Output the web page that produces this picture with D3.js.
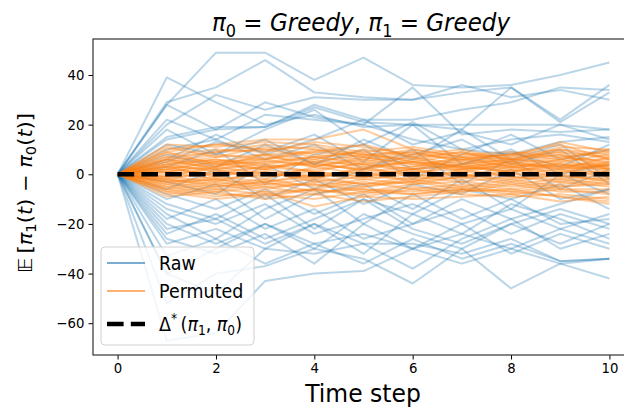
<!DOCTYPE html>
<html>
<head>
<meta charset="utf-8">
<script src="https://cdn.jsdelivr.net/npm/d3@7"></script>
<style>
  html, body { margin: 0; padding: 0; background: #fff; }
  svg { display: block; }
  text { font-family: "DejaVu Sans", sans-serif; fill: #000; }
</style>
</head>
<body>
<svg id="chart" width="624" height="414"></svg>
<script>
const timeSteps = [0, 1, 2, 3, 4, 5, 6, 7, 8, 9, 10];

const rawSeries = [
  [0, 28, 49, 49, 38, 47, 36, 35, 36, 40, 45],
  [0, 39, 29, 20, 24, 19, 20, 18, 35, 22, 36],
  [0, 29, 35, 46, 33, 31, 30, 33, 35, 21, 33],
  [0, 20, 32, 26, 31, 30, 30, 36, 31, 34, 30],
  [0, 28, 18, 19, 28, 22, 22, 26, 29, 35, 34],
  [0, 14, 18, 29, 23, 20, 35, 16, 18, 17, 18],
  [0, 15, 19, 19, 27, 21, 20, 20, 20, 20, 18],
  [0, 10, 14, 24, 22, 20, 14, 10, 14, 16, 13],
  [0, 12, 8, 18, 26, 12, 21, 10, 8, 13, 15],
  [0, 5, 13, 9, 16, 5, 20, 4, 9, 3, 12],
  [0, 8, 3, 12, 4, 14, 6, 18, 6, 12, -2],
  [0, 3, 10, -4, 8, 12, 2, 4, 10, 0, 4],
  [0, -3, -8, 4, -6, 2, 10, -4, 6, -6, 2],
  [0, -6, 2, -10, -2, -12, -4, -8, 2, -10, -6],
  [0, -10, -4, -18, -8, -4, -14, -2, -14, 0, -8],
  [0, -12, -18, -8, -22, -10, -16, -6, -10, -20, -18],
  [0, -16, -26, -14, -6, -20, -8, -18, -10, -4, -14],
  [0, -18, -10, -22, -14, -26, -20, -14, -24, -16, -22],
  [0, -20, -28, -20, -30, -16, -24, -30, -20, -28, -20],
  [0, -22, -18, -28, -20, -32, -16, -24, -12, -18, -26],
  [0, -26, -32, -24, -36, -20, -30, -20, -32, -24, -30],
  [0, -28, -22, -30, -20, -28, -38, -26, -18, -30, -24],
  [0, -33, -26, -36, -28, -36, -26, -34, -28, -35, -34],
  [0, -40, -30, -20, -28, -24, -30, -36, -30, -22, -28],
  [0, -52, -40, -37, -30, -34, -44, -30, -46, -36, -42],
  [0, -67, -64, -43, -40, -39, -30, -24, -30, -36, -34],
  [0, -40, -48, -30, -32, -28, -28, -32, -26, -35, -34],
  [0, 6, 16, 8, 14, 22, 12, 17, 12, 20, 14],
  [0, -8, -14, -6, -16, -8, -20, -10, -18, -12, -6],
  [0, 18, 8, 14, 4, 10, -2, 8, 16, 6, 10],
  [0, -14, -20, -12, -24, -18, -12, -20, -14, -22, -16],
  [0, 22, 14, 6, 12, 2, 8, 14, 4, 10, -4],
  [0, -24, -16, -26, -18, -10, -22, -28, -20, -14, -20]
];

const permutedSeries = [
  [0, 10, 12, 14, 14, 18, 10, 7, 6, 9, 7],
  [0, 12, 11, 13, 12, 9, 11, 8, 7, 13, 9],
  [0, 8, 10, 9, 13, 11, 8, 6, 5, 11, 10],
  [0, 6, 9, 12, 10, 8, 6, 9, 4, 7, 5],
  [0, 11, 7, 8, 9, 12, 7, 4, 6, 5, 8],
  [0, 4, 7, 11, 8, 6, 9, 5, 7, 9, 4],
  [0, 7, 5, 6, 10, 7, 4, 6, 3, 6, 6],
  [0, 3, 6, 4, 7, 9, 5, 3, 5, 8, 3],
  [0, 9, 4, 7, 5, 4, 7, 2, 4, 3, 5],
  [0, 5, 3, 8, 3, 6, 3, 5, 2, 6, 2],
  [0, 2, 5, 2, 6, 3, 5, 1, 4, 2, 7],
  [0, 6, 2, 4, 1, 5, 2, 4, 6, 4, 1],
  [0, 1, 4, 5, 4, 2, 6, 3, 1, 5, 3],
  [0, 4, 1, 3, 5, 1, 3, 7, 3, 1, 4],
  [0, -1, 3, 0, 2, 4, 1, 2, 5, 3, 0],
  [0, 3, -1, 2, -1, 2, 0, 4, 1, 4, 2],
  [0, 0, 2, -2, 3, 0, 2, -1, 3, 0, 5],
  [0, 2, 0, 1, -2, 3, -1, 1, 0, 2, -1],
  [0, -2, 1, -1, 1, -1, 1, 0, -2, 1, 1],
  [0, 1, -2, 0, -1, 1, -3, 2, -1, -2, 0],
  [0, -3, -1, -3, 0, -2, 0, -2, 2, -1, -2],
  [0, -1, -3, 1, -3, -1, -2, 0, -3, 0, -3],
  [0, -4, -2, -4, -2, -4, -1, -3, -1, -3, -1],
  [0, -2, -4, -2, -5, -2, -4, -1, -4, -2, -4],
  [0, -5, -3, -6, -3, -5, -2, -5, -2, -5, -3],
  [0, -3, -6, -4, -4, -7, -4, -3, -5, -3, -5],
  [0, -6, -4, -7, -6, -3, -6, -4, -6, -4, -2],
  [0, -4, -7, -5, -8, -5, -3, -6, -3, -6, -6],
  [0, -7, -5, -3, -7, -6, -7, -5, -7, -5, -4],
  [0, -5, -8, -9, -6, -8, -5, -7, -4, -7, -7],
  [0, -8, -6, -8, -10, -7, -8, -6, -8, -6, -8],
  [0, -6, -9, -7, -13, -9, -6, -8, -9, -8, -10],
  [0, -9, -7, -10, -8, -11, -9, -7, -6, -9, -12],
  [0, -7, -10, -8, -6, -9, -10, -9, -8, -11, -9],
  [0, 2, 5, 8, 6, 10, 7, 9, 6, 10, 8],
  [0, 5, 8, 6, 9, 7, 10, 7, 8, 6, 10],
  [0, 7, 9, 10, 7, 5, 8, 10, 6, 8, 2],
  [0, 3, 2, 5, 7, 4, 2, 6, 8, 12, 6],
  [0, -2, -5, -3, -1, -4, -3, -1, 0, -1, 1],
  [0, 1, 3, 6, 3, 7, 4, 2, 3, 4, 3],
  [0, 4, 6, 3, 4, 2, 5, 3, 5, 2, 4],
  [0, -1, 0, 3, 1, -1, 2, 3, 1, 3, 2],
  [0, 9, 12, 10, 11, 8, 9, 6, 8, 10, 6],
  [0, -3, -2, -5, -4, -6, -8, -6, -7, -9, -11],
  [0, 6, 4, 2, 5, 8, 5, 8, 9, 7, 9]
];

const optimalGap = [0, 0, 0, 0, 0, 0, 0, 0, 0, 0, 0];

const xTicks = [0, 2, 4, 6, 8, 10];
const yTicks = [-60, -40, -20, 0, 20, 40];
const legendLabels = ["Raw", "Permuted"];

// ---------- layout ----------
const svg = d3.select("#chart");
const L = 93, T = 39, R = 634, B = 355;

const x = d3.scaleLinear().domain([-0.5, 10.5]).range([L, R]);
const y = d3.scaleLinear().domain([-72.8, 54.5]).range([B, T]);

svg.append("defs").append("clipPath").attr("id", "clip")
  .append("rect").attr("x", L).attr("y", T).attr("width", R - L).attr("height", B - T);

const plot = svg.append("g").attr("clip-path", "url(#clip)");
const line = d3.line().x((d, i) => x(timeSteps[i])).y(d => y(d));

const blue = "#1f77b4", orange = "#ff7f0e";

plot.selectAll(".raw").data(rawSeries).join("path")
  .attr("class", "raw").attr("d", line)
  .attr("fill", "none").attr("stroke", blue).attr("stroke-opacity", 0.3)
  .attr("stroke-width", 2).attr("stroke-linejoin", "round");

plot.selectAll(".perm").data(permutedSeries).join("path")
  .attr("class", "perm").attr("d", line)
  .attr("fill", "none").attr("stroke", orange).attr("stroke-opacity", 0.4)
  .attr("stroke-width", 2).attr("stroke-linejoin", "round");

plot.append("path").datum(optimalGap).attr("d", line)
  .attr("fill", "none").attr("stroke", "#000").attr("stroke-width", 4.5)
  .attr("stroke-dasharray", "16.6,7.2");

// ---------- axes ----------
const fmt = d => d < 0 ? "\u2212" + Math.abs(d) : String(d);
const TSX = 0.95;

const xAxis = svg.append("g").attr("transform", `translate(0,${B})`)
  .call(d3.axisBottom(x).tickValues(xTicks).tickSize(4.5).tickPadding(4).tickFormat(fmt));
const yAxis = svg.append("g").attr("transform", `translate(${L},0)`)
  .call(d3.axisLeft(y).tickValues(yTicks).tickSize(4.5).tickPadding(4).tickFormat(fmt));

[xAxis, yAxis].forEach(a => {
  a.select(".domain").remove();
  a.selectAll(".tick line").attr("stroke", "#000").attr("stroke-width", 1);
  a.selectAll(".tick text").attr("font-size", 14).attr("font-family", "DejaVu Sans")
    .attr("fill", "#222");
});
xAxis.selectAll(".tick text").attr("transform", `scale(${TSX},1)`);
yAxis.selectAll(".tick text").each(function () {
  const t = d3.select(this);
  const xx = +t.attr("x");
  t.attr("x", xx / TSX).attr("transform", `scale(${TSX},1)`);
});

// spines
svg.append("rect").attr("x", L).attr("y", T).attr("width", R - L).attr("height", B - T)
  .attr("fill", "none").attr("stroke", "#333").attr("stroke-width", 1.2);

// ---------- text helper ----------
function mathText(parent, cx, cy, size, sx, parts, anchor, rotate) {
  const g = parent.append("g")
    .attr("transform", `translate(${cx},${cy})` + (rotate ? ` rotate(${rotate}) scale(1,${sx})` : ` scale(${sx},1)`));
  const t = g.append("text").attr("font-size", size).attr("text-anchor", anchor || "middle");
  parts.forEach(p => {
    const ts = t.append("tspan").text(p.t);
    if (p.i) ts.attr("font-style", "italic");
    if (p.sub) ts.attr("font-size", size * 0.7).attr("dy", size * 0.22);
    if (p.sup) ts.attr("font-size", size * 0.7).attr("dy", -size * 0.4);
    if (p.back) ts.attr("dy", p.back * size);
  });
  return t;
}

// title
mathText(svg, 361, 31, 25, 0.92, [
  { t: "\u03c0", i: true }, { t: "0", sub: true }, { t: " = ", back: -0.22 }, { t: "Greedy", i: true },
  { t: ", " }, { t: "\u03c0", i: true }, { t: "1", sub: true }, { t: " = ", back: -0.22 }, { t: "Greedy", i: true }
]);

// x label
mathText(svg, 363, 402, 25.5, 0.92, [{ t: "Time step" }]);

// y label (rotated)
mathText(svg, 32, 193, 21, 0.92, [
  { t: "\ud835\udd3c" }, { t: "\u2009[" }, { t: "\u03c0", i: true }, { t: "1", sub: true },
  { t: "(", back: -0.22 }, { t: "t", i: true }, { t: ") \u2212 " }, { t: "\u03c0", i: true }, { t: "0", sub: true },
  { t: "(", back: -0.22 }, { t: "t", i: true }, { t: ")]" }
], "middle", -90);

// ---------- legend ----------
const lg = svg.append("g");
lg.append("rect").attr("x", 101).attr("y", 247).attr("width", 153).attr("height", 98).attr("rx", 4)
  .attr("fill", "#fff").attr("fill-opacity", 0.8).attr("stroke", "#d0d0d0").attr("stroke-width", 1);
const rowsY = [263, 291, 324];
lg.append("line").attr("x1", 107).attr("x2", 145).attr("y1", rowsY[0]).attr("y2", rowsY[0])
  .attr("stroke", blue).attr("stroke-opacity", 0.6).attr("stroke-width", 2.2);
lg.append("line").attr("x1", 107).attr("x2", 145).attr("y1", rowsY[1]).attr("y2", rowsY[1])
  .attr("stroke", orange).attr("stroke-opacity", 0.6).attr("stroke-width", 2.2);
lg.append("line").attr("x1", 107).attr("x2", 145).attr("y1", rowsY[2]).attr("y2", rowsY[2])
  .attr("stroke", "#000").attr("stroke-width", 4.5).attr("stroke-dasharray", "16.6,7.2");

mathText(lg, 159, rowsY[0] + 7, 19, 0.92, [{ t: legendLabels[0] }], "start");
mathText(lg, 159, rowsY[1] + 7, 19, 0.92, [{ t: legendLabels[1] }], "start");
mathText(lg, 159, rowsY[2] + 7, 19, 0.92, [
  { t: "\u0394" }, { t: "*", sup: true }, { t: "\u2009(", back: 0.4 }, { t: "\u03c0", i: true }, { t: "1", sub: true },
  { t: ", ", back: -0.22 }, { t: "\u03c0", i: true }, { t: "0", sub: true }, { t: ")", back: -0.22 }
], "start");
</script>
</body>
</html>
